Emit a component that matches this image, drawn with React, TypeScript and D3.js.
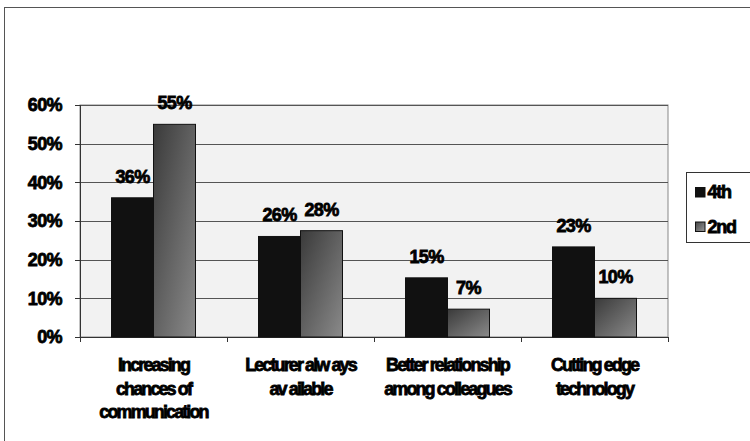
import React from "react";
import * as d3 from "d3";

const categories = [
  ["Increasing", "chances of", "communication"],
  ["Lecturer alw ays", "av ailable"],
  ["Better relationship", "among colleagues"],
  ["Cutting edge", "technology"],
];
const catKeys = ["c1", "c2", "c3", "c4"];
const seriesNames = ["4th", "2nd"];
const values4th = [0.36, 0.26, 0.153, 0.233];
const values2nd = [0.55, 0.275, 0.072, 0.1];
const yTicks = [0, 0.1, 0.2, 0.3, 0.4, 0.5, 0.6];

const W = 750;
const H = 441;
const left = 80;
const right = 668;
const top = 105;
const bottom = 337;

export default function App() {
  const x0 = d3.scaleBand<string>().domain(catKeys).range([left, right]).paddingInner(0).paddingOuter(0);
  const x1 = d3
    .scaleBand<string>()
    .domain(seriesNames)
    .range([0, x0.bandwidth()])
    .paddingInner(0)
    .paddingOuter(0.75);
  const y = d3.scaleLinear().domain([0, 0.6]).range([bottom, top]);
  const fmt = (v: number) => `${Math.round(v * 100)}%`;
  const series = [values4th, values2nd];
  const font = "'Liberation Sans', Arial, sans-serif";
  const heavy = { stroke: "#000", strokeWidth: 0.8 };

  return (
    <svg
      width={W}
      height={H}
      style={{ position: "absolute", left: 0, top: 0, background: "#fff" }}
      fontFamily={font}
    >
      <defs>
        <linearGradient id="g2" x1="0" y1="0" x2="1" y2="1">
          <stop offset="0" stopColor="#3a3a3a" />
          <stop offset="1" stopColor="#8a8a8a" />
        </linearGradient>
        <linearGradient id="gl" x1="0" y1="0" x2="1" y2="1">
          <stop offset="0" stopColor="#444" />
          <stop offset="1" stopColor="#999" />
        </linearGradient>
      </defs>
      {/* outer frame */}
      <rect x={4.5} y={7.5} width={W} height={H} fill="#fff" stroke="#555" strokeWidth={1} />
      {/* plot area */}
      <rect x={left} y={top} width={right - left} height={bottom - top} fill="#f2f2f2" stroke="#888" strokeWidth={1} />
      {yTicks.map((t) => (
        <g key={t}>
          {t > 0 && (
            <line x1={left} x2={right} y1={Math.round(y(t)) + 0.5} y2={Math.round(y(t)) + 0.5} stroke="#555" strokeWidth={1} />
          )}
          <line x1={left - 5} x2={left} y1={Math.round(y(t)) + 0.5} y2={Math.round(y(t)) + 0.5} stroke="#333" />
          <text
            x={62}
            y={y(t)}
            dy="0.36em"
            textAnchor="end"
            fontSize={18}
            fontWeight="bold"
            letterSpacing={-0.6}
            {...heavy}
          >
            {fmt(t)}
          </text>
        </g>
      ))}
      {/* axes */}
      <line x1={left + 0.5} x2={left + 0.5} y1={top} y2={bottom} stroke="#333" />
      <line x1={left - 5} x2={right} y1={bottom + 0.5} y2={bottom + 0.5} stroke="#333" />
      {catKeys.concat(["end"]).map((k, i) => {
        const xx = i < catKeys.length ? (x0(k) as number) : right;
        return <line key={k} x1={Math.round(xx) + 0.5} x2={Math.round(xx) + 0.5} y1={bottom} y2={bottom + 5} stroke="#333" />;
      })}
      {/* bars */}
      {catKeys.map((k, ci) =>
        seriesNames.map((s, si) => {
          const v = series[si][ci];
          const bx = (x0(k) as number) + (x1(s) as number);
          return (
            <rect
              key={k + s}
              x={bx}
              y={y(v)}
              width={x1.bandwidth()}
              height={bottom - y(v)}
              fill={si === 0 ? "#111" : "url(#g2)"}
              stroke="#111"
              strokeWidth={1}
            />
          );
        })
      )}
      {/* data labels */}
      {catKeys.map((k, ci) =>
        seriesNames.map((s, si) => {
          const v = series[si][ci];
          const bx = (x0(k) as number) + (x1(s) as number) + x1.bandwidth() / 2;
          return (
            <text
              key={"l" + k + s}
              x={bx}
              y={y(v) - 15}
              textAnchor="middle"
              fontSize={18}
              fontWeight="bold"
              letterSpacing={-0.6}
              {...heavy}
            >
              {fmt(v)}
            </text>
          );
        })
      )}
      {/* category labels */}
      {catKeys.map((k, ci) => (
        <text
          key={"c" + k}
          x={(x0(k) as number) + x0.bandwidth() / 2}
          y={371}
          textAnchor="middle"
          fontSize={18}
          fontWeight="bold"
          letterSpacing={-1.9}
          {...heavy}
        >
          {categories[ci].map((line, li) => (
            <tspan key={li} x={(x0(k) as number) + x0.bandwidth() / 2} dy={li === 0 ? 0 : 23.5}>
              {line}
            </tspan>
          ))}
        </text>
      ))}
      {/* legend */}
      <rect x={686.5} y={172.5} width={70} height={70} fill="#fff" stroke="#333" />
      {seriesNames.map((s, si) => (
        <g key={"lg" + s}>
          <rect
            x={695.5}
            y={187.5 + si * 34.5}
            width={9.5}
            height={9.5}
            fill={si === 0 ? "#111" : "url(#gl)"}
            stroke="#111"
          />
          <text x={707.5} y={192 + si * 34.5} dy="0.36em" fontSize={18} fontWeight="bold" letterSpacing={-1.2} {...heavy}>
            {s}
          </text>
        </g>
      ))}
    </svg>
  );
}
